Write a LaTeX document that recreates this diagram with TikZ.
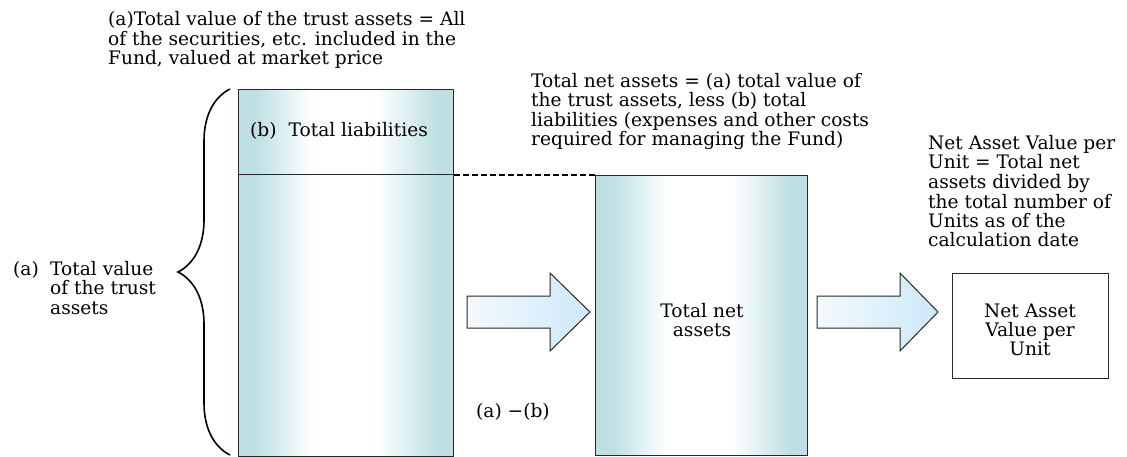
\documentclass[tikz,border=0pt]{standalone}
\usepackage{fontspec}
\setmainfont{DejaVu Serif}
\usetikzlibrary{decorations.pathreplacing}
\definecolor{tealA}{RGB}{190,224,228}
\definecolor{arrL}{RGB}{244,250,254}
\definecolor{arrR}{RGB}{206,232,248}
\definecolor{edge}{RGB}{40,40,40}
\pgfdeclarehorizontalshading{boxshade}{100bp}{color(0bp)=(tealA); color(25bp)=(tealA); color(29bp)=(tealA); color(42bp)=(white); color(57bp)=(white); color(71bp)=(tealA); color(75bp)=(tealA); color(100bp)=(tealA)}
\begin{document}
\begin{tikzpicture}[x=1pt,y=-1pt,
  txt/.style={font=\fontsize{18.6}{19.5}\selectfont, align=left, inner sep=0pt, anchor=base west},
  ctxt/.style={font=\fontsize{18.6}{19}\selectfont, align=center, inner sep=0pt, anchor=base},
  tealbox/.style={draw=edge, line width=1pt, shading=boxshade, inner sep=0pt, anchor=north west},
  fatarrow/.style={draw=edge, line width=1pt, left color=arrL, right color=arrR},
  navbox/.style={draw=edge, line width=1.1pt, fill=white, inner sep=0pt, anchor=north west,
     minimum width=156pt, minimum height=105pt},
  bracestyle/.style={draw=black, line width=1.6pt, decorate, decoration={brace, amplitude=52pt}},
]
\useasboundingbox (0,0) rectangle (1127,457);

% boxes
\node[tealbox, minimum width=215pt, minimum height=367pt] (assets) at (238,89) {};
\node[tealbox, minimum width=212pt, minimum height=280pt] (net) at (595,175) {};
\node[navbox] (nav) at (952,273) {};

% separator and dashed line
\coordinate (sepL) at ([yshift=-86pt]assets.north west);
\coordinate (sepR) at ([yshift=-86pt]assets.north east);
\draw[edge, line width=1pt] (sepL) -- (sepR);
\draw[black, line width=1.4pt, dash pattern=on 6pt off 3pt] (sepR) -- (net.north west);

% brace
\coordinate (braceB) at (230,455);
\coordinate (braceT) at (230,89);
\draw[bracestyle] (braceB) -- (braceT);

% fat arrows
\draw[fatarrow] (467,296) -- (550,296) -- (550,273) -- (590,312) -- (550,351) -- (550,328) -- (467,328) -- cycle;
\draw[fatarrow] (817,296) -- (900,296) -- (900,273) -- (938,312) -- (900,351) -- (900,328) -- (817,328) -- cycle;

% texts (base = baseline of last line)
\node[txt] (topnote) at (108,65) {(a)Total value of the trust assets = All\\of the securities, etc. included in the\\Fund, valued at market price};
\node[txt] (liab) at (250,137) {(b)\hspace{12pt}Total liabilities};
\node[txt] (alab) at (13,275) {(a)};
\node[txt] (atext) at (50,314) {Total value\\of the trust\\assets};
\node[txt] (midnote) at (531,146) {Total net assets = (a) total value of\\the trust assets, less (b) total\\liabilities (expenses and other costs\\required for managing the Fund)};
\node[txt] (rightnote) at (928,247) {Net Asset Value per\\Unit = Total net\\assets divided by\\the total number of\\Units as of the\\calculation date};
\node[ctxt] (netlbl) at (702,336.5) {Total net\\assets};
\node[ctxt] (navlbl) at (1030,355) {Net Asset\\Value per\\Unit};
\node[txt] (diff) at (476,417) {(a) −(b)};
\end{tikzpicture}
\end{document}
